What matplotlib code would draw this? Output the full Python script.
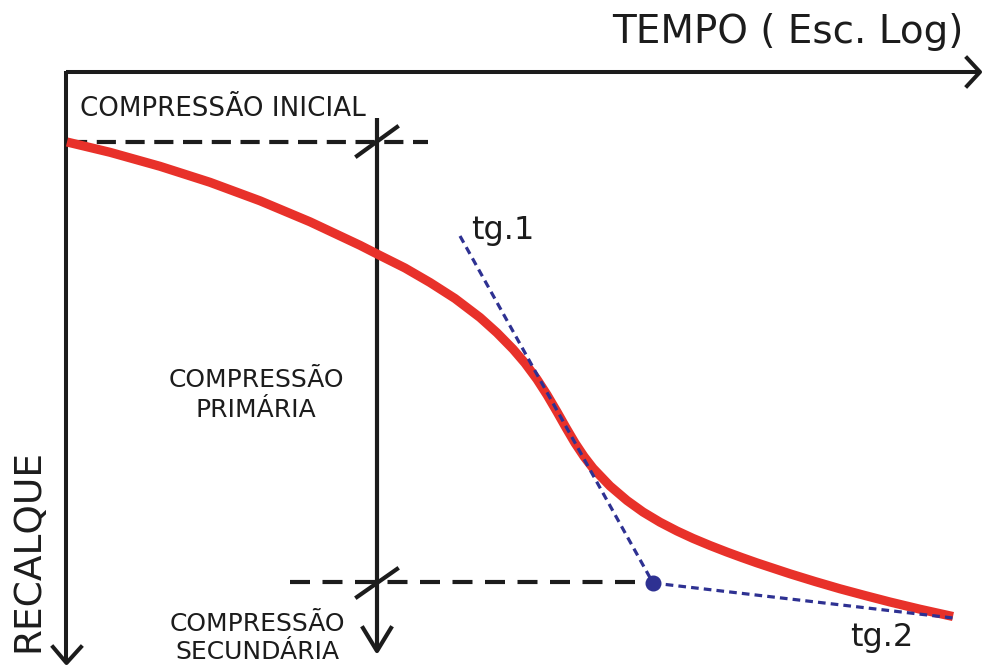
import matplotlib
matplotlib.use("Agg")
import matplotlib.pyplot as plt

# Schematic settlement-time curve (diagram units: x = log time, y = settlement, downward)
curve_x = [67, 110, 160, 210, 260, 310, 360, 380, 405, 430, 455, 480, 497, 513, 525, 537,
           547, 557, 566, 575, 584, 593, 610, 627, 643, 660, 677, 693, 710, 727, 742, 757,
           790, 815, 840, 865, 890, 920, 953]
curve_y = [142.0, 152.3, 166.3, 182.3, 200.8, 221.8, 245.3, 255.5, 268.0, 282.5, 298.5,
           317.5, 332.8, 349.1, 363.1, 379.3, 394.8, 411.8, 427.7, 443.0, 456.5, 468.2,
           486.0, 500.5, 512.0, 522.2, 531.0, 538.4, 545.5, 552.1, 557.6, 562.9,
           573.8, 581.5, 588.8, 595.5, 602.0, 609.2, 616.5]

tg1_x = [460, 653]
tg1_y = [236, 583]
tg2_x = [653, 953]
tg2_y = [583, 618]
intersect_x = [653]
intersect_y = [583]

initial_level = 142
primary_end_level = 582

RED = "#e8312a"
NAVY = "#2e3192"
INK = "#1c1c1c"

fig = plt.figure(figsize=(9.83, 6.67), dpi=100)
ax = fig.add_axes([0, 0, 1, 1])
ax.set_xlim(0, 983)
ax.set_ylim(667, 0)
ax.axis("off")

font = dict(family="DejaVu Sans")

# axes
ax.plot([66, 979], [72, 72], color=INK, lw=2.9, solid_capstyle="butt")
ax.plot([66, 66], [70.5, 662], color=INK, lw=2.9, solid_capstyle="butt")
ax.plot([967, 980, 967], [58, 72, 86], color=INK, lw=2.9)
ax.plot([53, 66.5, 81], [647, 663, 647], color=INK, lw=2.9)

# dashed horizontal reference lines
ax.plot([68, 428], [initial_level, initial_level], color=INK, lw=3.0, dashes=(4.6, 2.3))
ax.plot([290, 648], [primary_end_level, primary_end_level], color=INK, lw=3.0, dashes=(4.8, 3.0))

# vertical arrow
ax.plot([377, 377], [118, 651], color=INK, lw=3.0, solid_capstyle="butt")
ax.plot([363, 377, 391], [628, 651, 628], color=INK, lw=3.0)
ax.plot([357, 397], [156, 127], color=INK, lw=3.0)
ax.plot([357, 397], [597, 569], color=INK, lw=3.0)

# curve
ax.plot(curve_x, curve_y, color=RED, lw=6.6, solid_capstyle="butt",
        solid_joinstyle="round", zorder=3)

# tangents
ax.plot(tg1_x, tg1_y, color=NAVY, lw=2.3, dashes=(2.4, 1.6), zorder=4)
ax.plot(tg2_x, tg2_y, color=NAVY, lw=2.3, dashes=(2.4, 1.6), zorder=4)
ax.plot(intersect_x, intersect_y, "o", color=NAVY, ms=10.5, zorder=5)

# texts
ax.text(963, 43, "TEMPO ( Esc. Log)", ha="right", va="baseline", fontsize=28, color=INK, **font)
ax.text(80, 116, "COMPRESSÃO INICIAL", ha="left", va="baseline", fontsize=18.8, color=INK, **font)
ax.text(256, 395, "COMPRESSÃO\nPRIMÁRIA", ha="center", va="center", fontsize=18, color=INK,
        linespacing=1.3, **font)
ax.text(257, 638, "COMPRESSÃO\nSECUNDÁRIA", ha="center", va="center", fontsize=18, color=INK,
        linespacing=1.22, **font)
ax.text(28, 550, "RECALQUE", ha="center", va="center", rotation=90, fontsize=27, color=INK, **font)
ax.text(471, 239, "tg.1", ha="left", va="baseline", fontsize=23, color=INK, **font)
ax.text(850, 646, "tg.2", ha="left", va="baseline", fontsize=23, color=INK, **font)

fig.savefig("out.png", dpi=100)
